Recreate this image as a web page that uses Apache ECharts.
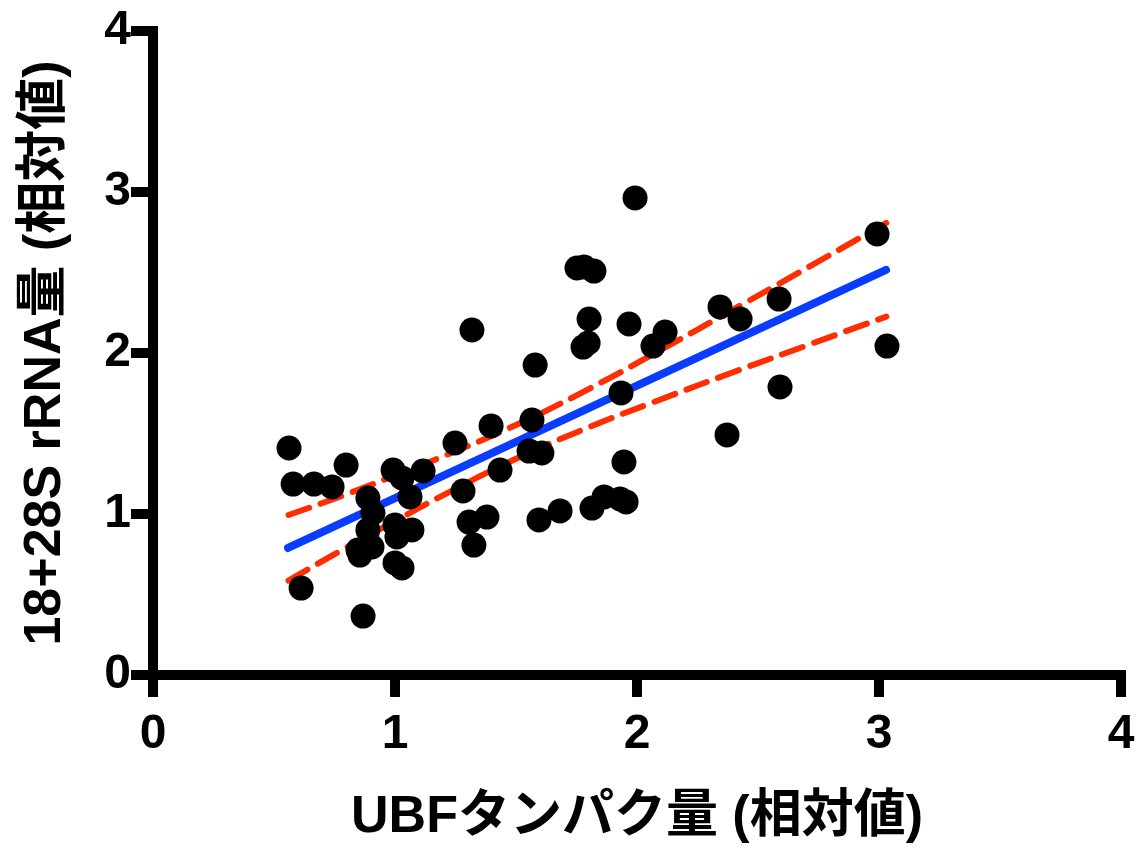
<!DOCTYPE html>
<html>
<head>
<meta charset="utf-8">
<script src="https://cdn.jsdelivr.net/npm/echarts@6/dist/echarts.min.js"></script>
<style>
  html, body { margin: 0; padding: 0; background: #fff; }
  #chart { width: 1141px; height: 847px; }
</style>
</head>
<body>
<div id="chart"></div>
<script>
// UBF protein level vs 18+28S rRNA level (relative values)
const ubfValues = [
  0.562, 0.579, 0.665, 0.740, 0.798, 0.612, 0.868, 0.992, 1.029, 1.116,
  1.062, 0.888, 0.909, 1.000, 1.070, 0.888, 1.008, 0.847, 0.905, 0.855,
  1.000, 1.029, 1.281, 1.306, 1.380, 1.326, 1.434, 1.248, 1.397, 1.318,
  1.566, 1.554, 1.607, 1.579, 1.595, 1.682, 1.814, 1.864, 1.930, 1.955,
  1.946, 1.934, 1.777, 1.798, 1.802, 1.967, 1.752, 1.781, 1.822, 1.992,
  2.066, 2.116, 2.343, 2.426, 2.372, 2.587, 2.591, 2.992, 3.033
];
const rrnaValues = [
  1.410, 1.186, 1.186, 1.168, 1.304, 0.540, 0.366, 1.273, 1.224, 1.267,
  1.106, 1.099, 1.006, 0.932, 0.901, 0.901, 0.857, 0.776, 0.795, 0.745,
  0.696, 0.665, 1.143, 0.950, 0.981, 0.807, 1.273, 1.441, 1.547, 2.143,
  1.584, 1.391, 1.379, 1.925, 0.963, 1.019, 1.037, 1.106, 1.093, 1.075,
  1.323, 1.752, 2.037, 2.062, 2.211, 2.180, 2.528, 2.534, 2.509, 2.963,
  2.043, 2.130, 2.286, 2.211, 1.491, 2.335, 1.789, 2.739, 2.043
];

// Regression line end points
const fitLine = [[0.558, 0.789], [3.029, 2.516]];

// 95% confidence band
const bandX     = [0.56, 0.80, 1.00, 1.20, 1.50, 1.80, 2.10, 2.40, 2.70, 3.03];
const bandUpper = [0.994, 1.123, 1.240, 1.359, 1.553, 1.776, 2.021, 2.272, 2.526, 2.808];
const bandLower = [0.586, 0.793, 0.956, 1.117, 1.343, 1.538, 1.713, 1.882, 2.046, 2.226];

const xTicks = ['0', '1', '2', '3', '4'];
const yTicks = ['0', '1', '2', '3', '4'];

const latin = '"Liberation Sans", Arial, "Noto Sans CJK JP", sans-serif';
const points = ubfValues.map((x, i) => [x, rrnaValues[i]]);
const upperPts = bandX.map((x, i) => [x, bandUpper[i]]);
const lowerPts = bandX.map((x, i) => [x, bandLower[i]]);

const axisCommon = {
  type: 'value',
  min: 0,
  max: 4,
  interval: 1,
  splitLine: { show: false },
  axisLine: { show: true, lineStyle: { color: '#000', width: 10, cap: 'square' } },
  axisTick: { show: true, inside: false, length: 22, lineStyle: { color: '#000', width: 10 } },
  nameTextStyle: { color: '#000', fontFamily: latin, fontWeight: 'bold', fontSize: 52 }
};

const dashStyle = { color: '#FF2D00', width: 6, type: [22, 12], cap: 'round' };

const chart = echarts.init(document.getElementById('chart'), null, { renderer: 'canvas' });
chart.setOption({
  animation: false,
  backgroundColor: '#fff',
  grid: { left: 153, right: 20, top: 31, bottom: 172, containLabel: false, outerBoundsMode: 'none' },
  xAxis: Object.assign({}, axisCommon, {
    name: 'UBFタンパク量 (相対値)',
    nameLocation: 'middle',
    nameGap: 117,
    axisLabel: {
      color: '#000', fontFamily: latin, fontWeight: 'bold', fontSize: 48, margin: 36,
      formatter: v => xTicks[Math.round(v)]
    }
  }),
  yAxis: Object.assign({}, axisCommon, {
    name: '18+28S rRNA量 (相対値)',
    nameLocation: 'middle',
    nameGap: 81,
    axisLabel: {
      color: '#000', fontFamily: latin, fontWeight: 'bold', fontSize: 48, margin: 22,
      formatter: v => yTicks[Math.round(v)]
    }
  }),
  series: [
    { type: 'line', data: upperPts, smooth: true, showSymbol: false, z: 2, lineStyle: dashStyle },
    { type: 'line', data: lowerPts, smooth: true, showSymbol: false, z: 2, lineStyle: dashStyle },
    {
      type: 'line', data: fitLine, showSymbol: false, z: 3,
      lineStyle: { color: '#0A3CFF', width: 8, cap: 'round' }
    },
    {
      type: 'scatter', data: points, symbol: 'circle', symbolSize: 25, z: 4,
      itemStyle: { color: '#000', opacity: 1 }
    }
  ]
});
</script>
</body>
</html>
